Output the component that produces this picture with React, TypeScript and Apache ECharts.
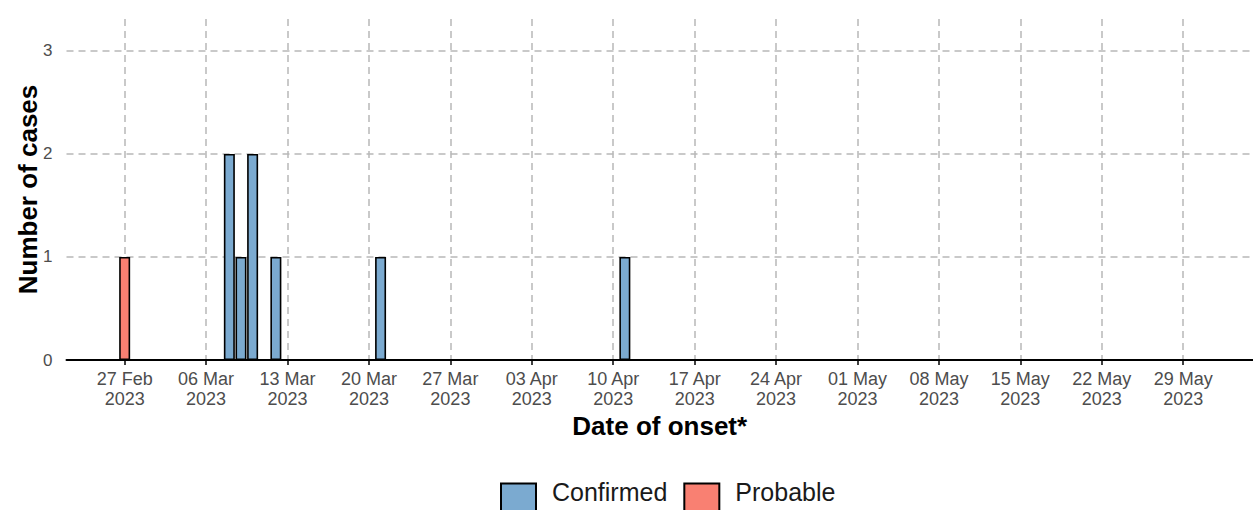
import React, { useEffect, useRef } from "react";
import * as echarts from "echarts";

// ---- Data ----
const axisStartDate = "2023-02-22"; // first day on the axis
const axisDayCount = 103; // number of days shown on the axis
const tickEveryDays = 7;
const firstTickIndex = 5; // 27 Feb 2023

const confirmedDates = ["2023-03-08", "2023-03-09", "2023-03-10", "2023-03-12", "2023-03-21", "2023-04-11"];
const confirmedCounts = [2, 1, 2, 1, 1, 1];
const probableDates = ["2023-02-27"];
const probableCounts = [1];

const yTicks = [0, 1, 2, 3];
const yMax = 3.31;

const monthNames = ["Jan", "Feb", "Mar", "Apr", "May", "Jun", "Jul", "Aug", "Sep", "Oct", "Nov", "Dec"];

const FONT = "Liberation Sans, Arial, sans-serif";

function buildCategories(): string[] {
  const out: string[] = [];
  const start = new Date(axisStartDate + "T00:00:00Z").getTime();
  for (let i = 0; i < axisDayCount; i++) {
    const d = new Date(start + i * 86400000);
    out.push(d.toISOString().slice(0, 10));
  }
  return out;
}

function formatLabel(iso: string): string {
  const [y, m, d] = iso.split("-");
  return `${d} ${monthNames[parseInt(m, 10) - 1]}\n${y}`;
}

function toSeries(categories: string[], dates: string[], counts: number[]) {
  return categories.map((c) => {
    const i = dates.indexOf(c);
    return i >= 0 ? counts[i] : null;
  });
}

export default function App() {
  const ref = useRef<HTMLDivElement>(null);

  useEffect(() => {
    if (!ref.current) return;
    const chart = echarts.init(ref.current, undefined, { renderer: "svg" });
    const categories = buildCategories();
    const showIdx = (index: number) => index >= firstTickIndex && (index - firstTickIndex) % tickEveryDays === 0;

    chart.setOption({
      animation: false,
      backgroundColor: "#ffffff",
      grid: { left: 66.5, right: 0, top: 19, bottom: 150, containLabel: false },
      legend: {
        left: 500,
        top: 479,
        padding: 0,
        itemWidth: 35,
        itemHeight: 38,
        itemGap: 16,
        icon: "rect",
        formatter: "{t|{name}}",
        textStyle: {
          fontFamily: FONT,
          fontSize: 25,
          color: "#1a1a1a",
          rich: {
            t: {
              fontFamily: FONT,
              fontSize: 25,
              color: "#1a1a1a",
              padding: [0, 0, 22, 11],
            },
          },
        },
        data: ["Confirmed", "Probable"],
      },
      xAxis: {
        type: "category",
        data: categories,
        boundaryGap: false,
        name: "Date of onset*",
        nameLocation: "middle",
        nameGap: 53,
        nameMoveOverlap: false,
        nameTextStyle: { fontFamily: FONT, fontSize: 26, fontWeight: "bold", color: "#000000" },
        axisLine: { show: true, lineStyle: { color: "#000000", width: 2 } },
        axisTick: { show: true, interval: (i: number) => showIdx(i), length: 5, lineStyle: { color: "#000000", width: 1.5 } },
        axisLabel: {
          interval: (i: number) => showIdx(i),
          formatter: (v: string) => formatLabel(v),
          fontFamily: FONT,
          fontSize: 18,
          lineHeight: 20,
          color: "#4d4d4d",
          margin: 9,
        },
        splitLine: {
          show: true,
          interval: (i: number) => showIdx(i),
          lineStyle: { color: "#b8b8b8", width: 1.5, type: [7, 5] },
        },
      },
      yAxis: {
        type: "value",
        min: yTicks[0],
        max: yMax,
        interval: 1,
        name: "Number of cases",
        nameLocation: "middle",
        nameGap: 26,
        nameMoveOverlap: false,
        nameTextStyle: { fontFamily: FONT, fontSize: 26, fontWeight: "bold", color: "#000000" },
        axisLine: { show: false },
        axisTick: { show: false },
        axisLabel: {
          fontFamily: FONT,
          fontSize: 17,
          color: "#4d4d4d",
          margin: 14,
          showMaxLabel: false,
          formatter: (v: number) => (yTicks.includes(v) ? String(v) : ""),
        },
        splitLine: {
          show: true,
          showMinLine: false,
          showMaxLine: false,
          lineStyle: { color: "#b8b8b8", width: 1.5, type: [7, 5] },
        },
      },
      series: [
        {
          name: "Confirmed",
          type: "bar",
          stack: "cases",
          barWidth: 11,
          data: toSeries(categories, confirmedDates, confirmedCounts),
          itemStyle: { color: "#7baad0", borderColor: "#000000", borderWidth: 1.6 },
        },
        {
          name: "Probable",
          type: "bar",
          stack: "cases",
          barWidth: 11,
          data: toSeries(categories, probableDates, probableCounts),
          itemStyle: { color: "#f98072", borderColor: "#000000", borderWidth: 1.6 },
        },
      ],
    });
    return () => chart.dispose();
  }, []);

  return (
    <div
      ref={ref}
      style={{ position: "fixed", left: 0, top: 0, width: 1253, height: 510, background: "#ffffff" }}
    />
  );
}
